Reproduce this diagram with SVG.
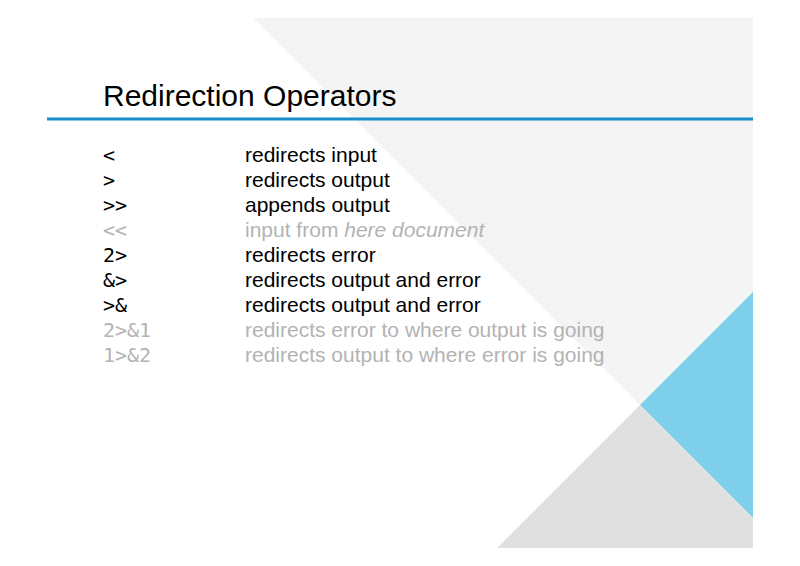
<svg xmlns="http://www.w3.org/2000/svg" width="800" height="566" viewBox="0 0 800 566">
<style>
.t{font-family:"Liberation Sans",Arial,sans-serif;font-size:21px;fill:#000}
.op{font-family:"DejaVu Sans Mono","Liberation Mono",monospace;font-size:20px;fill:#000}
.g{fill:#b3b3b3}
</style>
<rect width="800" height="566" fill="#fff"/>
<g id="background">
<polygon points="253,18 753,18 753,292 640,405" fill="#f4f4f4"/>
<polygon points="753,292 640,405 753,518" fill="#7dcfea"/>
<polygon points="497,548 640,405 753,518 753,548" fill="#e0e0e0"/>
</g>
<g id="title">
<text x="103" y="106" font-family="Liberation Sans,Arial,sans-serif" font-size="30" fill="#000">Redirection Operators</text>
<line x1="47" y1="119" x2="753" y2="119" stroke="#1a8bc8" stroke-width="3"/>
</g>
<g id="table">
<text class="op" x="103" y="162">&lt;</text><text class="t" x="245" y="162">redirects input</text>
<text class="op" x="103" y="187">&gt;</text><text class="t" x="245" y="187">redirects output</text>
<text class="op" x="103" y="212">&gt;&gt;</text><text class="t" x="245" y="212">appends output</text>
<text class="op g" x="103" y="237">&lt;&lt;</text><text class="t g" x="245" y="237">input from <tspan font-style="italic">here document</tspan></text>
<text class="op" x="103" y="262">2&gt;</text><text class="t" x="245" y="262">redirects error</text>
<text class="op" x="103" y="287">&amp;&gt;</text><text class="t" x="245" y="287">redirects output and error</text>
<text class="op" x="103" y="312">&gt;&amp;</text><text class="t" x="245" y="312">redirects output and error</text>
<text class="op g" x="103" y="337">2&gt;&amp;1</text><text class="t g" x="245" y="337">redirects error to where output is going</text>
<text class="op g" x="103" y="362">1&gt;&amp;2</text><text class="t g" x="245" y="362">redirects output to where error is going</text>
</g>
</svg>
